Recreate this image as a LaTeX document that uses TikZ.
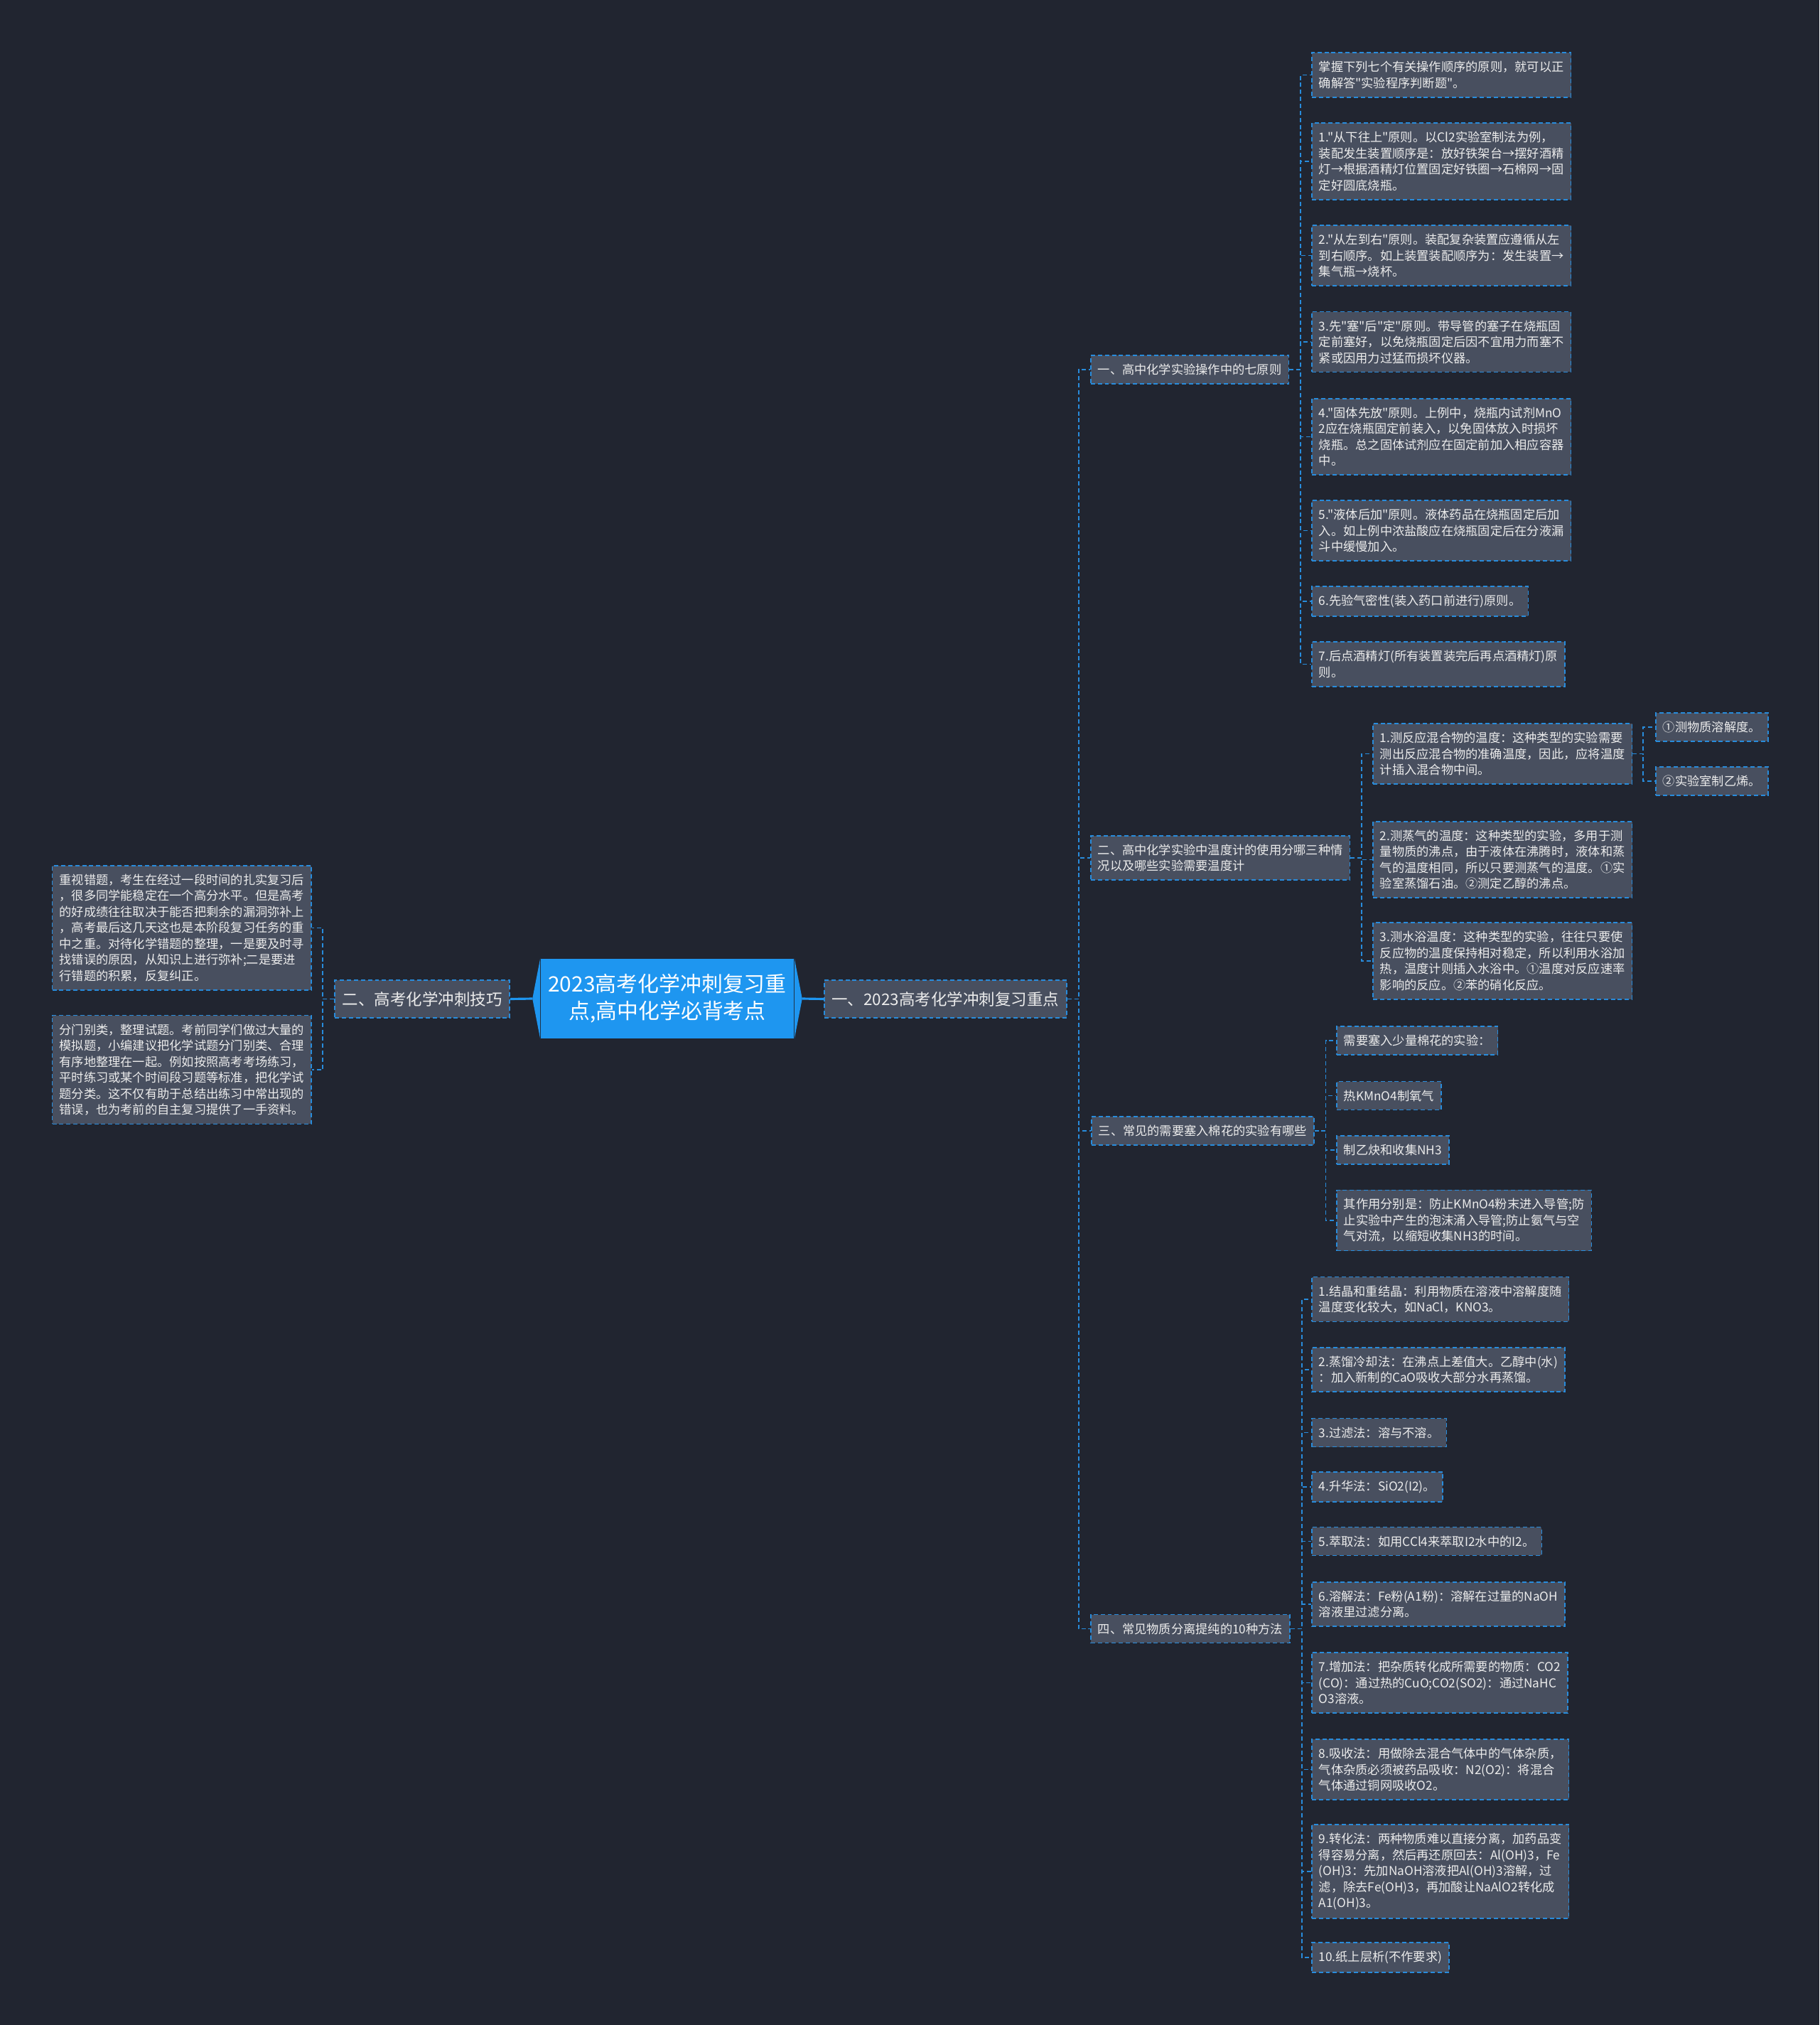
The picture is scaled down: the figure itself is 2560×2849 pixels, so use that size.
\documentclass[tikz,border=0pt]{standalone}
\usepackage{fontspec}
\newfontfamily\cjk{Noto Sans CJK SC}
\usepackage{tikz}
\usetikzlibrary{positioning,calc}
\definecolor{bgcol}{RGB}{33,37,48}
\definecolor{boxcol}{RGB}{72,79,95}
\definecolor{edgeblue}{RGB}{40,140,220}
\definecolor{rootblue}{RGB}{30,150,240}
\definecolor{txtcol}{RGB}{236,236,236}
\tikzstyle{box} = [draw=edgeblue, fill=boxcol, text=txtcol, line width=0.45pt, dash pattern=on 1.7pt off 1.1pt, align=left, inner xsep=2.85pt, inner ysep=3.4pt, anchor=west]
\tikzstyle{leaf} = [box, font=\cjk\fontsize{4.9pt}{6.4pt}\selectfont]
\tikzstyle{branch} = [leaf]
\tikzstyle{topic} = [box, font=\cjk\fontsize{6.4pt}{8pt}\selectfont, inner xsep=3pt, inner ysep=4.5pt]
\tikzstyle{link} = [draw=edgeblue, line width=0.5pt, dash pattern=on 1.7pt off 1.1pt]
\tikzstyle{trunk} = [draw=rootblue, line width=0.9pt]

\begin{document}
\begin{tikzpicture}[x=0.01cm, y=-0.01cm]
    \useasboundingbox (0,0) rectangle (2560,2849);
    \fill [bgcol] (0,0) rectangle (2560,2849);

    \node [fill=rootblue, text=white, font=\cjk\fontsize{8.5pt}{10.8pt}\selectfont, align=center, minimum width=3.56cm, minimum height=1.12cm, inner sep=0pt] (root) at (939,1405) {2023高考化学冲刺复习重\\点,高中化学必背考点};
    \fill [rootblue] (root.north east) -- ([xshift=0.11cm]root.east) -- (root.south east) -- cycle;
    \fill [rootblue] (root.north west) -- ([xshift=-0.11cm]root.west) -- (root.south west) -- cycle;

    \node [topic] (one) at (1159,1405.5) {一、2023高考化学冲刺复习重点};
    \node [topic, anchor=east] (two) at (718,1405.5) {二、高考化学冲刺技巧};

    \node [leaf, anchor=east] (tip1) at (439,1305.5) {重视错题，考生在经过一段时间的扎实复习后\\，很多同学能稳定在一个高分水平。但是高考\\的好成绩往往取决于能否把剩余的漏洞弥补上\\，高考最后这几天这也是本阶段复习任务的重\\中之重。对待化学错题的整理，一是要及时寻\\找错误的原因，从知识上进行弥补;二是要进\\行错题的积累，反复纠正。};
    \node [leaf, anchor=east] (tip2) at (439,1505) {分门别类，整理试题。考前同学们做过大量的\\模拟题，小编建议把化学试题分门别类、合理\\有序地整理在一起。例如按照高考考场练习，\\平时练习或某个时间段习题等标准，把化学试\\题分类。这不仅有助于总结出练习中常出现的\\错误，也为考前的自主复习提供了一手资料。};

    \node [branch] (b1) at (1534,520) {一、高中化学实验操作中的七原则};
    \node [branch] (b2) at (1534,1207) {二、高中化学实验中温度计的使用分哪三种情\\况以及哪些实验需要温度计};
    \node [branch] (b3) at (1535,1591) {三、常见的需要塞入棉花的实验有哪些};
    \node [branch] (b4) at (1534,2291.5) {四、常见物质分离提纯的10种方法};

    \node [leaf] (b1n0) at (1845,105.5) {掌握下列七个有关操作顺序的原则，就可以正\\确解答"实验程序判断题"。};
    \node [leaf] (b1n1) at (1845,227) {1."从下往上"原则。以Cl2实验室制法为例，\\装配发生装置顺序是：放好铁架台→摆好酒精\\灯→根据酒精灯位置固定好铁圈→石棉网→固\\定好圆底烧瓶。};
    \node [leaf] (b1n2) at (1845,359.5) {2."从左到右"原则。装配复杂装置应遵循从左\\到右顺序。如上装置装配顺序为：发生装置→\\集气瓶→烧杯。};
    \node [leaf] (b1n3) at (1845,481) {3.先"塞"后"定"原则。带导管的塞子在烧瓶固\\定前塞好，以免烧瓶固定后因不宜用力而塞不\\紧或因用力过猛而损坏仪器。};
    \node [leaf] (b1n4) at (1845,614.5) {4."固体先放"原则。上例中，烧瓶内试剂MnO\\2应在烧瓶固定前装入，以免固体放入时损坏\\烧瓶。总之固体试剂应在固定前加入相应容器\\中。};
    \node [leaf] (b1n5) at (1845,746.5) {5."液体后加"原则。液体药品在烧瓶固定后加\\入。如上例中浓盐酸应在烧瓶固定后在分液漏\\斗中缓慢加入。};
    \node [leaf] (b1n6) at (1845,846) {6.先验气密性(装入药口前进行)原则。};
    \node [leaf] (b1n7) at (1845,934.5) {7.后点酒精灯(所有装置装完后再点酒精灯)原\\则。};

    \node [leaf] (b2n1) at (1931,1060.5) {1.测反应混合物的温度：这种类型的实验需要\\测出反应混合物的准确温度，因此，应将温度\\计插入混合物中间。};
    \node [leaf] (b2n2) at (1931,1209.5) {2.测蒸气的温度：这种类型的实验，多用于测\\量物质的沸点，由于液体在沸腾时，液体和蒸\\气的温度相同，所以只要测蒸气的温度。①实\\验室蒸馏石油。②测定乙醇的沸点。};
    \node [leaf] (b2n3) at (1931,1352) {3.测水浴温度：这种类型的实验，往往只要使\\反应物的温度保持相对稳定，所以利用水浴加\\热，温度计则插入水浴中。①温度对反应速率\\影响的反应。②苯的硝化反应。};
    \node [leaf] (sub1) at (2329,1023) {①测物质溶解度。};
    \node [leaf] (sub2) at (2329,1099) {②实验室制乙烯。};

    \node [leaf] (b3n1) at (1880,1464) {需要塞入少量棉花的实验：};
    \node [leaf] (b3n2) at (1880,1541.5) {热KMnO4制氧气};
    \node [leaf] (b3n3) at (1880,1618) {制乙炔和收集NH3};
    \node [leaf] (b3n4) at (1880,1717) {其作用分别是：防止KMnO4粉末进入导管;防\\止实验中产生的泡沫涌入导管;防止氨气与空\\气对流，以缩短收集NH3的时间。};

    \node [leaf] (b4n1) at (1845,1828) {1.结晶和重结晶：利用物质在溶液中溶解度随\\温度变化较大，如NaCl，KNO3。};
    \node [leaf] (b4n2) at (1845,1927) {2.蒸馏冷却法：在沸点上差值大。乙醇中(水)\\：加入新制的CaO吸收大部分水再蒸馏。};
    \node [leaf] (b4n3) at (1845,2015.5) {3.过滤法：溶与不溶。};
    \node [leaf] (b4n4) at (1845,2092) {4.升华法：SiO2(I2)。};
    \node [leaf] (b4n5) at (1845,2168.5) {5.萃取法：如用CCl4来萃取I2水中的I2。};
    \node [leaf] (b4n6) at (1845,2257) {6.溶解法：Fe粉(A1粉)：溶解在过量的NaOH\\溶液里过滤分离。};
    \node [leaf] (b4n7) at (1845,2367.5) {7.增加法：把杂质转化成所需要的物质：CO2\\(CO)：通过热的CuO;CO2(SO2)：通过NaHC\\O3溶液。};
    \node [leaf] (b4n8) at (1845,2489.5) {8.吸收法：用做除去混合气体中的气体杂质，\\气体杂质必须被药品吸收：N2(O2)：将混合\\气体通过铜网吸收O2。};
    \node [leaf] (b4n9) at (1845,2633) {9.转化法：两种物质难以直接分离，加药品变\\得容易分离，然后再还原回去：Al(OH)3，Fe\\(OH)3：先加NaOH溶液把Al(OH)3溶解，过\\滤，除去Fe(OH)3，再加酸让NaAlO2转化成\\A1(OH)3。};
    \node [leaf] (b4n10) at (1845,2754) {10.纸上层析(不作要求)};

    \draw [trunk] ([xshift=0.11cm]root.east) -- (one.west);
    \draw [trunk] ([xshift=-0.11cm]root.west) -- (two.east);

    \foreach \n in {1,2} \path [link] (two.west) -- ++(-16,0) |- (tip\n.east);
    \foreach \n in {1,2,3,4} \path [link] (one.east) -- ++(16,0) |- (b\n.west);
    \foreach \n in {0,...,7} \path [link] (b1.east) -- ++(16,0) |- (b1n\n.west);
    \foreach \n in {1,2,3} \path [link] (b2.east) -- ++(16,0) |- (b2n\n.west);
    \foreach \n in {1,2} \path [link] (b2n1.east) -- ++(15,0) |- (sub\n.west);
    \foreach \n in {1,...,4} \path [link] (b3.east) -- ++(16,0) |- (b3n\n.west);
    \foreach \n in {1,...,10} \path [link] (b4.east) -- ++(16,0) |- (b4n\n.west);
\end{tikzpicture}
\end{document}
